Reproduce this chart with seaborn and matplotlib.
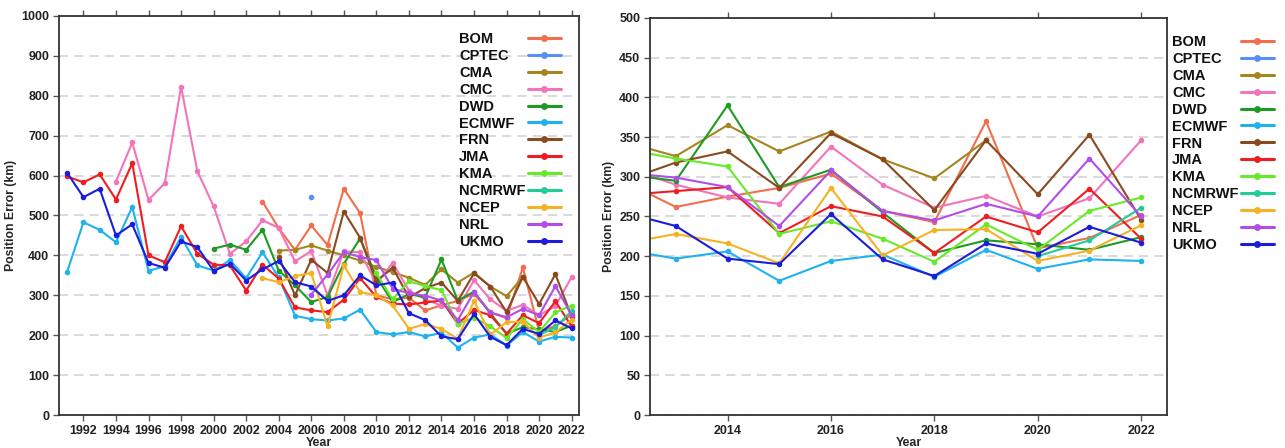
import numpy as np
import pandas as pd
import matplotlib
matplotlib.use("Agg")
import matplotlib.pyplot as plt
from matplotlib.lines import Line2D
import seaborn as sns

N = np.nan
years = list(range(1991, 2023))

models = ["BOM", "CPTEC", "CMA", "CMC", "DWD", "ECMWF", "FRN", "JMA", "KMA",
          "NCMRWF", "NCEP", "NRL", "UKMO"]

# values 1991..2022
BOM = [N]*12 + [535, 468, 414, 475, 426, 567, 506, 300, 290, 294, 262, 275, 286, 304, 257, 243, 370, 210, 223, 252]
CPTEC = [N]*15 + [546] + [N]*16
CMA = [N]*13 + [412, 414, 425, 412, 400, 387, 371, 358, 344, 326, 365, 332, 357, 322, 298, 346, N, N, N]
CMC = [N]*3 + [585, 683, 539, 581, 823, 611, 523, 404, 435, 488, 469, 385, 411, 300, 410, 408, 330, 381, 312,
               290, 274, 266, 338, 290, 261, 276, 250, 273, 346]
DWD = [N]*9 + [417, 427, 414, 464, 362, 325, 283, 296, 379, 442, 346, 283, 303, 295, 390, 287, 309, 255, 204,
               220, 215, 208, 224]
ECMWF = [359, 483, 464, 433, 521, 361, 373, 446, 375, 362, 388, 343, 408, 345, 249, 240, 237, 242, 264, 208,
         202, 208, 197, 206, 169, 194, 202, 174, 208, 184, 196, 194]
FRN = [N]*13 + [397, 300, 389, 356, 510, 444, 335, 369, 295, 318, 332, 286, 355, 322, 258, 346, 278, 353, 246]
JMA = [598, 583, 603, 540, 631, 400, 383, 473, 404, 377, 375, 312, 377, 342, 270, 262, 258, 289, 343, 296,
       279, 277, 282, 287, 229, 263, 250, 204, 250, 230, 285, 222]
KMA = [N]*19 + [355, 290, 335, 323, 313, 228, 244, 222, 193, 240, 208, 257, 274]
NCMRWF = [N]*29 + [200, 220, 261]
NCEP = [N]*12 + [343, 333, 348, 356, 222, 375, 308, 300, 275, 216, 228, 216, 191, 286, 201, 233, 234, 194, 207, 239]
NRL = [N]*15 + [302, 352, 408, 396, 388, 317, 305, 299, 287, 238, 308, 257, 245, 266, 250, 323, 250]
UKMO = [607, 546, 567, 450, 478, 381, 369, 435, 421, 361, 379, 337, 365, 386, 333, 322, 286, 300, 350, 325,
        332, 255, 238, 197, 190, 253, 196, 175, 216, 203, 237, 217]

series = {"BOM": BOM, "CPTEC": CPTEC, "CMA": CMA, "CMC": CMC, "DWD": DWD, "ECMWF": ECMWF, "FRN": FRN,
          "JMA": JMA, "KMA": KMA, "NCMRWF": NCMRWF, "NCEP": NCEP, "NRL": NRL, "UKMO": UKMO}

colors = {"BOM": "#F26E4C", "CPTEC": "#5A90F5", "CMA": "#A3861F", "CMC": "#F274B9", "DWD": "#1E9B24",
          "ECMWF": "#1FB2EE", "FRN": "#8A4A1F", "JMA": "#EE1D22", "KMA": "#6AE82A", "NCMRWF": "#22CC96",
          "NCEP": "#F5B323", "NRL": "#B24EE8", "UKMO": "#1C1CDC"}

rows = []
for m in models:
    for y, v in zip(years, series[m]):
        if not np.isnan(v):
            rows.append((m, y, v))
df = pd.DataFrame(rows, columns=["Model", "Year", "Error"])

sns.set_theme(style="white")
plt.rcParams["font.family"] = ["Liberation Sans", "DejaVu Sans"]
plt.rcParams["font.weight"] = "bold"

fig = plt.figure(figsize=(12.85, 4.48), dpi=100)
axL = fig.add_axes([59/1285, 33/448, 520/1285, 399/448])
axR = fig.add_axes([650/1285, 33/448, 517/1285, 397/448])


def draw(ax):
    sns.lineplot(data=df, x="Year", y="Error", hue="Model", hue_order=models, palette=colors,
                 marker="o", markersize=4, markeredgewidth=0, linewidth=1.5, errorbar=None,
                 legend=False, ax=ax)
    ax.yaxis.grid(True, linestyle=(0, (6, 4)), color="#cfcfcf", linewidth=1.1)
    ax.xaxis.grid(False)
    ax.set_axisbelow(True)
    for s in ax.spines.values():
        s.set_color("#333333")
        s.set_linewidth(1.3)
    ax.tick_params(axis="both", which="major", direction="out", length=4, width=1, color="#555555",
                   labelsize=9, pad=3, top=True, bottom=True, left=True, labeltop=False,
                   labelcolor="#222222")
    ax.set_xlabel("Year", fontsize=9, fontweight="bold", labelpad=0)
    ax.set_ylabel("Position Error (km)", fontsize=8.8, fontweight="bold", labelpad=3)


draw(axL)
axL.set_xlim(1990.5, 2022.45)
axL.set_ylim(0, 1000)
axL.set_xticks(list(range(1992, 2023, 2)))
axL.set_yticks(list(range(0, 1001, 100)))

draw(axR)
axR.set_xlim(2012.5, 2022.5)
axR.set_ylim(0, 500)
axR.set_xticks(list(range(2014, 2023, 2)))
axR.set_yticks(list(range(0, 501, 50)))

for ax in (axL, axR):
    for lab in ax.get_xticklabels() + ax.get_yticklabels():
        lab.set_fontweight("bold")

handles = [Line2D([0], [0], color=colors[m], marker="o", markersize=5, markeredgewidth=0, linewidth=2.2)
           for m in models]
blank = [Line2D([0], [0], color="none") for m in models]

common = dict(frameon=False, labelspacing=0.2, borderpad=0, borderaxespad=0, loc="upper left",
              prop={"weight": "bold", "size": 10.5}, bbox_transform=fig.transFigure)

for x0, y0 in ((459, 32), (1172, 35)):
    # handle column (labels hidden, right-aligned so handles line up after the widest label)
    lh = fig.legend(handles, models, markerfirst=False, handlelength=2.2, handletextpad=0.2,
                    bbox_to_anchor=(x0/1285, 1 - y0/448), **common)
    for t in lh.get_texts():
        t.set_alpha(0)
    # text column, left aligned
    lt = fig.legend(blank, models, markerfirst=True, handlelength=0, handletextpad=0,
                    bbox_to_anchor=(x0/1285, 1 - y0/448), **common)
    for t in lt.get_texts():
        t.set_color("#111111")

fig.savefig("out.png", dpi=100, facecolor="white")
